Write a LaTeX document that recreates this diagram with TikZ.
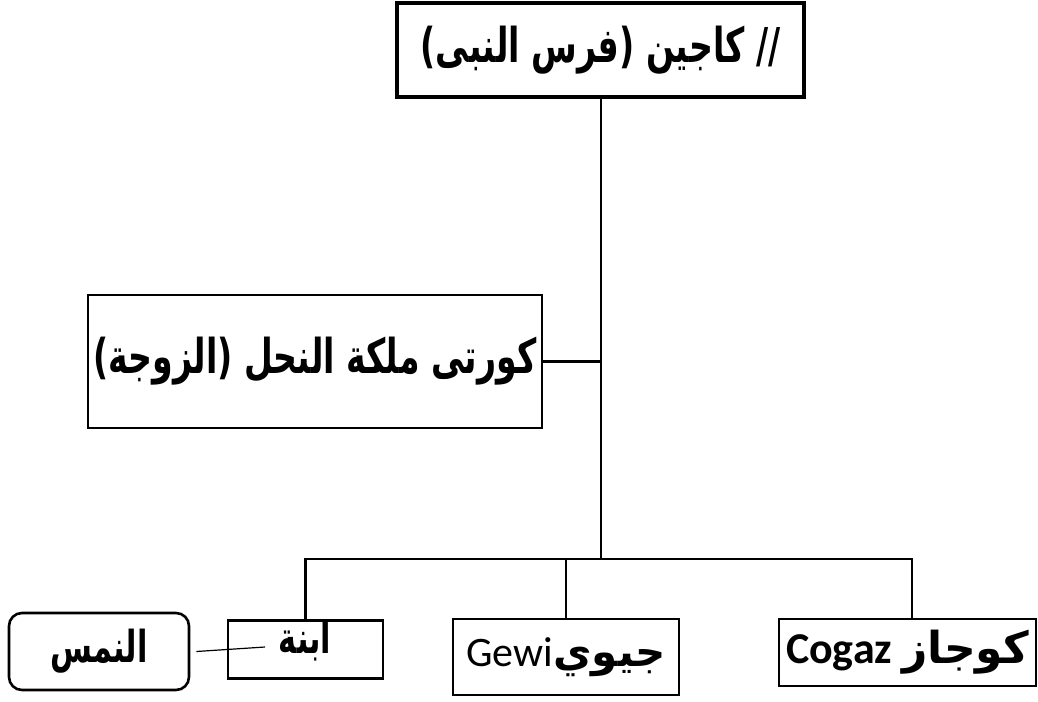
\documentclass[tikz,border=0pt]{standalone}
\usepackage{fontspec}
\usepackage{tikz}
\TeXXeTstate=1
\newfontfamily\arabicfont[Script=Arabic, FakeStretch=0.69]{DejaVu Sans}
\newfontfamily\arabicplain[Script=Arabic]{DejaVu Sans}
\newfontfamily\latinfont{Carlito}

\begin{document}
\begin{tikzpicture}[
    x=0.5pt, y=-0.5pt,
    box/.style={rectangle, draw=black, fill=white, line width=1.3pt, inner sep=0pt, align=center},
    roundbox/.style={box, rounded corners=6.5pt},
    link/.style={draw=black, line width=1.4pt},
    thinlink/.style={draw=black, line width=0.6pt}
]
    \useasboundingbox (0,0) rectangle (1038,701);

    % Father
    \node[box, line width=1.8pt, minimum width=203.5pt, minimum height=47pt] (kajin) at (600.5,50)
        {\arabicfont\bfseries\fontsize{24}{28}\selectfont\raisebox{-2pt}{\beginR // كاجين (فرس النبى)\endR}};

    % Wife
    \node[box, minimum width=227pt, minimum height=66.5pt] (korti) at (315,361.5)
        {\arabicfont\bfseries\fontsize{24}{28}\selectfont\beginR كورتى ملكة النحل (الزوجة)\endR};

    % Children
    \node[box, minimum width=77.5pt, minimum height=29pt, anchor=north] (ibna) at (305.5,619) {};
    \node[anchor=north, inner sep=0pt] (ibnatext) at (305,620)
        {\arabicfont\bfseries\fontsize{22}{26}\selectfont\beginR ابنة\endR};
    \node[box, minimum width=113pt, minimum height=38pt] (gewi) at (566,657)
        {\latinfont\fontsize{21}{25}\selectfont Gewi{\arabicplain\bfseries\beginR جيوي\endR}};
    \node[box, minimum width=128.5pt, minimum height=33.5pt] (cogaz) at (907.5,652.5)
        {\latinfont\bfseries\fontsize{22}{26}\selectfont Cogaz {\arabicplain\beginR كوجاز\endR}};

    % Grandchild
    \node[roundbox, minimum width=90pt, minimum height=38.5pt] (nims) at (99,651.5)
        {\arabicfont\bfseries\fontsize{22}{26}\selectfont\beginR النمس\endR};

    % Connections
    \coordinate (hub) at (601,559);
    \coordinate (nimsend) at (265,647);
    \draw[link] (kajin.south -| hub) -- (hub);
    \draw[link] (korti.east) -- (korti.east -| hub);
    \draw[link] (ibna.north) |- (hub);
    \draw[link] (hub) -| ([xshift=2.25pt]cogaz.north);
    \draw[link] (gewi.north) -- (gewi.north |- hub);
    \draw[thinlink] ([xshift=3pt]nims.east) -- (nimsend);
\end{tikzpicture}
\end{document}
